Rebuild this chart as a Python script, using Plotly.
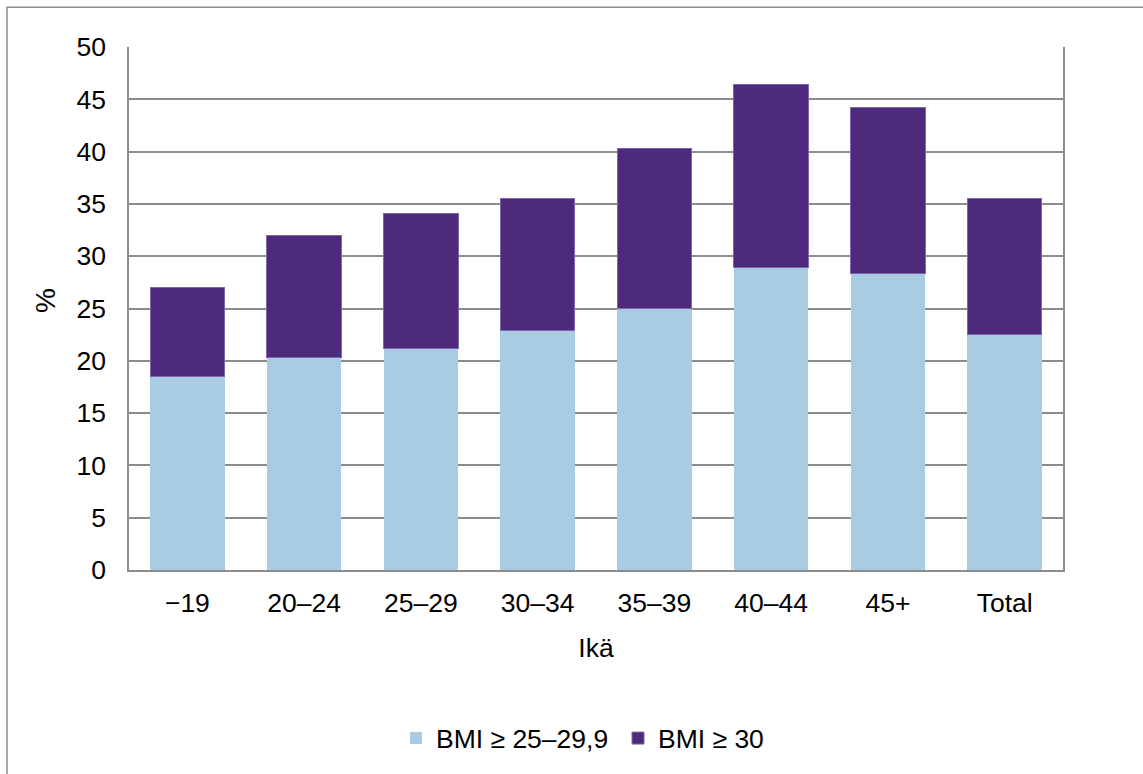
import plotly.graph_objects as go

# Age groups and stacked BMI shares (%)
age_groups = ["\u221219", "20\u201324", "25\u201329", "30\u201334", "35\u201339", "40\u201344", "45+", "Total"]
overweight = [18.5, 20.3, 21.2, 22.9, 25.0, 28.9, 28.3, 22.5]
obese = [8.5, 11.7, 12.9, 12.6, 15.3, 17.5, 15.9, 13.0]
y_ticks = [0, 5, 10, 15, 20, 25, 30, 35, 40, 45, 50]

W, H = 1143, 774
L, R, T, B = 129, 1063, 47, 572

font_family = "Liberation Sans, Arial, sans-serif"
FS = 26.5

fig = go.Figure()
fig.add_trace(go.Bar(
    x=age_groups, y=overweight, name="BMI \u2265 25\u201329,9",
    marker=dict(color="#A9CCE3", line=dict(width=0)),
))
fig.add_trace(go.Bar(
    x=age_groups, y=obese, name="BMI \u2265 30",
    marker=dict(color="#4E2A7C", line=dict(width=1, color="#7E66AE")),
))

pw, ph = R - L, B - T


def px_x(x):
    return (x - L) / pw


def px_y(y):
    return (B - y) / ph


# outer chart frame (runs off the right and bottom edges)
fig.add_shape(type="rect", xref="paper", yref="paper",
              x0=px_x(7), x1=px_x(1160), y0=px_y(800), y1=px_y(7),
              line=dict(color="#8c8c8c", width=1.5), fillcolor="rgba(0,0,0,0)", layer="below")

# y-axis title
fig.add_annotation(text="%", xref="paper", yref="paper", x=px_x(45), y=px_y(302),
                   xanchor="center", yanchor="middle", textangle=-90, showarrow=False,
                   font=dict(size=28, family=font_family, color="#000000"))

fig.update_layout(
    width=W, height=H,
    margin=dict(l=L, r=W - R, t=T, b=H - B, pad=0),
    barmode="stack", bargap=0.36,
    paper_bgcolor="white", plot_bgcolor="white",
    font=dict(family=font_family, size=FS, color="#000000"),
    showlegend=True,
    legend=dict(orientation="h", x=px_x(396), xanchor="left", y=px_y(741), yanchor="middle",
                font=dict(size=FS), traceorder="normal", itemwidth=30,
                entrywidth=177, entrywidthmode="pixels"),
    xaxis=dict(
        title=dict(text="Ik\u00e4", font=dict(size=FS), standoff=22),
        showline=True, linecolor="#8c8c8c", linewidth=2, mirror=False,
        ticks="", tickfont=dict(size=FS), showgrid=False, ticklabelstandoff=8,
    ),
    yaxis=dict(
        range=[0, 50], tickvals=y_ticks, ticktext=[str(v) for v in y_ticks],
        showgrid=True, gridcolor="#8c8c8c", gridwidth=1.5,
        showline=True, linecolor="#8c8c8c", linewidth=1.5, mirror=True,
        ticks="", ticklabelstandoff=16, tickfont=dict(size=FS), zeroline=False,
    ),
)

fig.write_html("out.html")
